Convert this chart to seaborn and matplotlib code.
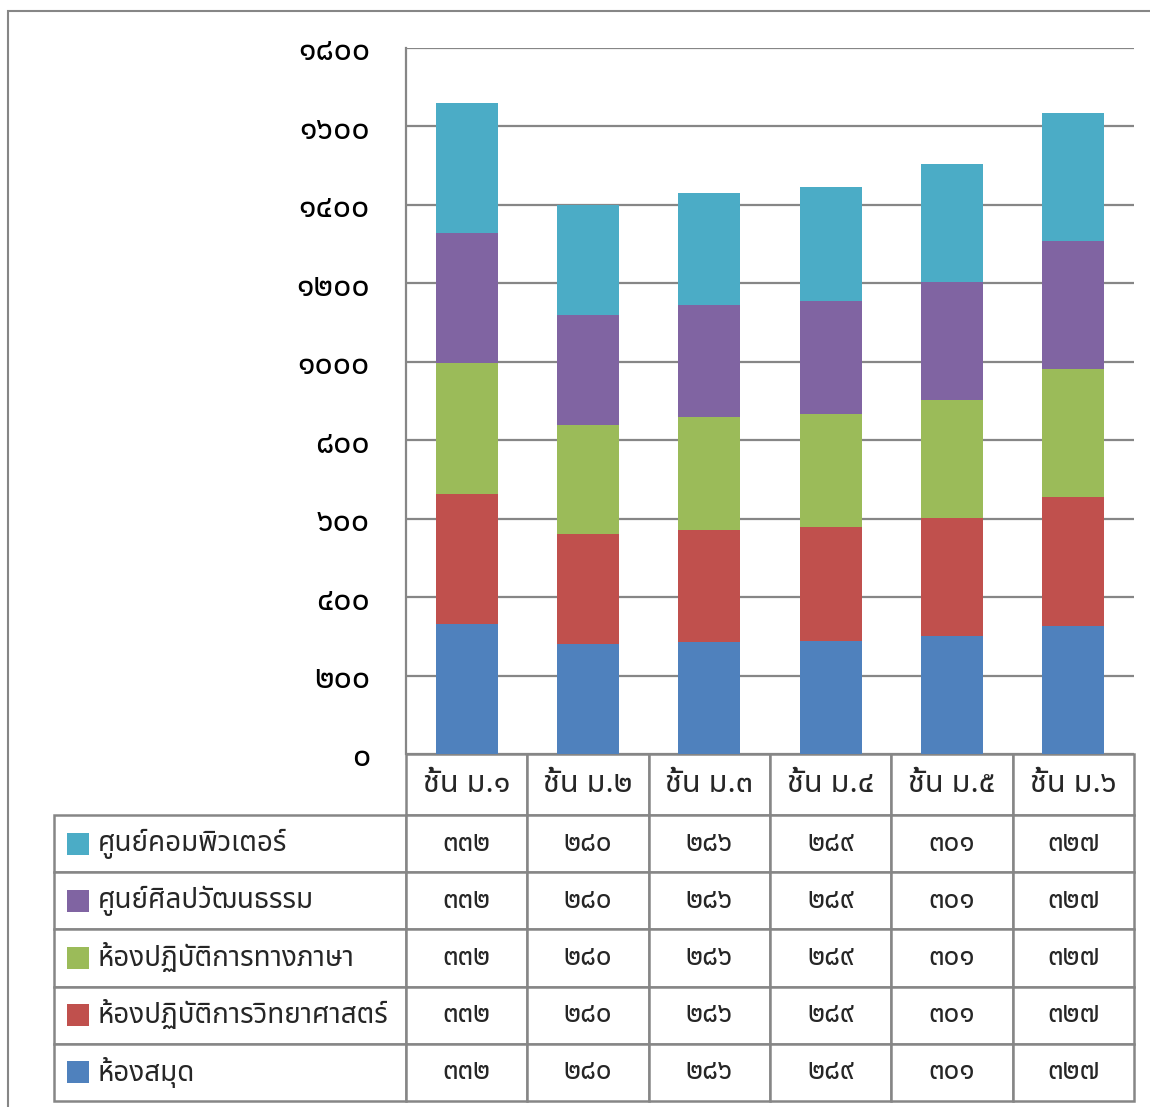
import matplotlib
import numpy as np
import seaborn as sns

matplotlib.use("Agg")
import matplotlib.pyplot as plt
from matplotlib.patches import Rectangle
from matplotlib.ticker import FuncFormatter, MultipleLocator


classes = ["ชั้น ม.๑", "ชั้น ม.๒", "ชั้น ม.๓", "ชั้น ม.๔", "ชั้น ม.๕", "ชั้น ม.๖"]

# bottom -> top of each stacked bar
series_names = [
    "ห้องสมุด",
    "ห้องปฏิบัติการวิทยาศาสตร์",
    "ห้องปฏิบัติการทางภาษา",
    "ศูนย์ศิลปวัฒนธรรม",
    "ศูนย์คอมพิวเตอร์",
]
library = [332, 280, 286, 289, 301, 327]
science_lab = [332, 280, 286, 289, 301, 327]
language_lab = [332, 280, 286, 289, 301, 327]
arts_center = [332, 280, 286, 289, 301, 327]
computer_center = [332, 280, 286, 289, 301, 327]
series_values = [library, science_lab, language_lab, arts_center, computer_center]
series_colors = ["#4F81BD", "#C0504D", "#9BBB59", "#8064A2", "#4BACC6"]

GRID = "#868686"
THAI = str.maketrans("0123456789", "๐๑๒๓๔๕๖๗๘๙")


def thai_num(v) -> str:
    return str(int(round(v))).translate(THAI)


sns.set_style("white")
plt.rcParams["font.family"] = ["Noto Sans Thai", "DejaVu Sans"]

W, H = 1150, 1107
AX_W, AX_H = 728, 706  # plot area in pixels
fig = plt.figure(figsize=(W / 100, H / 100), dpi=100)
ax = fig.add_axes([406 / W, 1 - 754 / H, AX_W / W, AX_H / H])

# stacked bars: draw running totals from the top layer down
cum = np.cumsum(np.array(series_values), axis=0)
for k in range(len(series_values) - 1, -1, -1):
    sns.barplot(x=classes, y=cum[k], color=series_colors[k], saturation=1,
                width=0.51, linewidth=0, ax=ax, zorder=3)

ax.set_xlim(-0.5, len(classes) - 0.5)
ax.set_ylim(0, 1800)
ax.yaxis.set_major_locator(MultipleLocator(200))
ax.yaxis.set_major_formatter(FuncFormatter(lambda v, _: thai_num(v)))
ax.yaxis.grid(True, color=GRID, linewidth=1.6)
ax.set_axisbelow(True)
ax.tick_params(axis="y", length=0, pad=26, labelsize=23, colors="black")
ax.set_xticks([])
ax.set_xlabel("")
ax.set_ylabel("")
for side in ["top", "right", "bottom"]:
    ax.spines[side].set_visible(False)
ax.spines["left"].set_color(GRID)
ax.spines["left"].set_linewidth(1.6)

# data table under the plot, top series first
row_order = list(range(len(series_values) - 1, -1, -1))
cell_text = [[thai_num(v) for v in series_values[k]] for k in row_order]
row_labels = [series_names[k] for k in row_order]

head_h = 61 / AX_H
row_h = 57.2 / AX_H
tab_h = head_h + row_h * len(row_order)
label_w = 352 / AX_W
table = ax.table(
    cellText=cell_text,
    rowLabels=row_labels,
    colLabels=classes,
    cellLoc="center",
    rowLoc="left",
    colLoc="center",
    bbox=[0, -tab_h, 1, tab_h],
)
# keep the label column at a fixed width instead of fitting it to the text
table._autoColumns = [c for c in table._autoColumns if c != -1]
table.auto_set_font_size(False)
for (r, c), cell in table.get_celld().items():
    cell.set_edgecolor(GRID)
    cell.set_linewidth(1.8)
    cell.set_height(head_h if r == 0 else row_h)
    if c == -1:
        cell.set_width(label_w)
        cell.PAD = 0.125
        cell.get_text().set_fontsize(20)
    else:
        cell.set_width(1 / len(classes))
        cell.get_text().set_fontsize(22 if r == 0 else 20)

# colour keys in front of the row labels
for i, k in enumerate(row_order):
    yc = -(head_h + row_h * (i + 0.5))
    ax.add_patch(Rectangle(((67 - 406) / AX_W, yc - 11 / AX_H), 22 / AX_W, 22 / AX_H,
                           facecolor=series_colors[k], edgecolor="none",
                           transform=ax.transAxes, clip_on=False, zorder=5))

# outer chart border
fig.add_artist(Rectangle((8 / W, -0.05), 1.1, 1.05 - 11 / H, fill=False,
                         edgecolor=GRID, linewidth=1.5, transform=fig.transFigure))

fig.savefig("out.png", dpi=100)
